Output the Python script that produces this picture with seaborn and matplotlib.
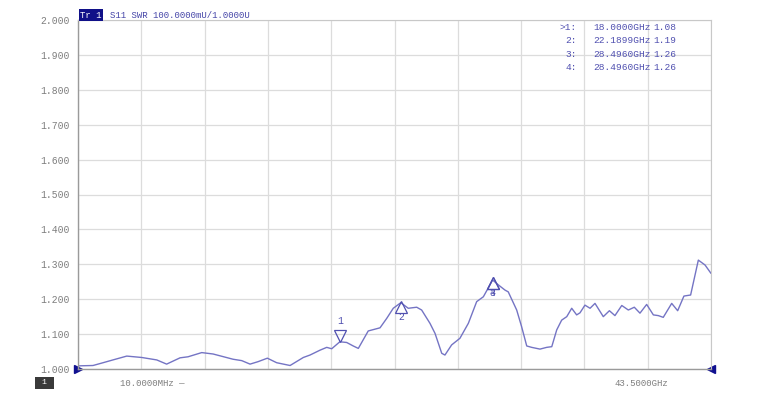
import numpy as np
import pandas as pd
import seaborn as sns
import matplotlib.pyplot as plt
from matplotlib.transforms import ScaledTranslation

# trace data (GHz, SWR)
freq_ghz = [0.01, 1.04, 1.73, 2.41, 3.36, 4.39, 5.42, 6.10, 7.02, 7.57, 8.51, 9.29,
            10.66, 11.26, 11.83, 12.38, 13.02, 13.66, 14.58, 15.49, 15.95, 16.64,
            17.10, 17.44, 18.00, 18.47, 18.92, 19.27, 19.95, 20.76, 21.22, 21.67,
            22.19, 22.70, 23.28, 23.62, 24.19, 24.54, 25.00, 25.22, 25.68, 26.25,
            26.83, 27.40, 27.86, 28.496, 28.89, 29.35, 29.57, 30.15, 30.49, 30.84,
            31.18, 31.75, 32.21, 32.56, 32.90, 33.24, 33.59, 33.93, 34.27, 34.50,
            34.84, 35.19, 35.53, 36.10, 36.52, 36.90, 37.37, 37.82, 38.23, 38.62,
            39.08, 39.54, 39.88, 40.22, 40.80, 41.21, 41.64, 42.10, 42.63, 43.09,
            43.50]
swr = [1.009, 1.010, 1.018, 1.026, 1.037, 1.033, 1.026, 1.014, 1.032, 1.035, 1.047,
       1.043, 1.028, 1.024, 1.014, 1.021, 1.031, 1.018, 1.010, 1.033, 1.040, 1.054,
       1.062, 1.058, 1.078, 1.076, 1.066, 1.059, 1.109, 1.118, 1.145, 1.174, 1.190,
       1.174, 1.177, 1.169, 1.131, 1.102, 1.045, 1.040, 1.069, 1.088, 1.131, 1.193,
       1.207, 1.255, 1.241, 1.226, 1.221, 1.169, 1.121, 1.066, 1.062, 1.057, 1.062,
       1.064, 1.112, 1.140, 1.150, 1.174, 1.155, 1.161, 1.183, 1.174, 1.188, 1.150,
       1.167, 1.153, 1.182, 1.169, 1.177, 1.160, 1.185, 1.155, 1.153, 1.148, 1.188,
       1.167, 1.209, 1.212, 1.312, 1.298, 1.274]

marker_ids = ["1", "2", "3", "4"]
marker_freq = [18.0000, 22.1899, 28.4960, 28.4960]
marker_val = [1.08, 1.19, 1.26, 1.26]

y_ticks = [2.0, 1.9, 1.8, 1.7, 1.6, 1.5, 1.4, 1.3, 1.2, 1.1, 1.0]
f_start, f_stop = 0.01, 43.5

df = pd.DataFrame({"freq": freq_ghz, "swr": swr})

sns.set_style("white")
plt.rcParams["font.family"] = ["Liberation Mono", "DejaVu Sans Mono"]

trace_c = "#7474c4"
mark_c = "#5050b0"
grey = "#7e7e7e"

fig = plt.figure(figsize=(7.58, 4.2), dpi=100)
ax = fig.add_axes([78 / 758, 51 / 420, 633 / 758, 349 / 420])

sns.lineplot(data=df, x="freq", y="swr", ax=ax, color=trace_c, linewidth=1.0)

ax.set_xlim(f_start, f_stop)
ax.set_ylim(1.0, 2.0)
ax.set_xticks(np.linspace(f_start, f_stop, 11))
ax.set_xticklabels([])
ax.set_yticks(y_ticks)
ax.set_yticklabels([f"{v:.3f}" for v in y_ticks], fontsize=7, color=grey)
ax.tick_params(length=0, pad=6)
ax.grid(True, color="#dcdcdc", linewidth=0.9)
ax.set_xlabel("")
ax.set_ylabel("")
for side in ["top", "right"]:
    ax.spines[side].set_color("#c8c8c8")
for side in ["left", "bottom"]:
    ax.spines[side].set_color("#9a9a9a")
    ax.spines[side].set_linewidth(1.0)

# marker triangles: 1 is active (points down, label above), others point up
up = ScaledTranslation(0, 0.048, fig.dpi_scale_trans)
down = ScaledTranslation(0, -0.048, fig.dpi_scale_trans)
for mid, mf, mv in zip(marker_ids, marker_freq, marker_val):
    if mid == "1":
        ax.plot(mf, mv, marker="v", ms=8.5, mfc="none", mec=mark_c, mew=0.9,
                transform=ax.transData + up)
        ax.annotate(mid, (mf, mv), xytext=(0, 11), textcoords="offset points",
                    ha="center", va="bottom", fontsize=7, color=mark_c)
    else:
        ax.plot(mf, mv, marker="^", ms=8.5, mfc="none", mec=mark_c, mew=0.9,
                transform=ax.transData + down)
        ax.annotate(mid, (mf, mv), xytext=(0, -7), textcoords="offset points",
                    ha="center", va="top", fontsize=7, color=mark_c)

# reference / span arrows on the frame
ax.plot(0, 0, marker=">", ms=6, color="#101090", transform=ax.transAxes, clip_on=False)
ax.plot(1, 0, marker="<", ms=6, color="#101090", transform=ax.transAxes, clip_on=False)

# header
fig.text(80 / 758, 1 - 15 / 420, "Tr 1", fontsize=6.5, color="white", va="center",
         bbox=dict(boxstyle="square,pad=0.15", fc="#101088", ec="none"))
fig.text(110 / 758, 1 - 15 / 420, "S11 SWR 100.0000mU/1.0000U", fontsize=6.5,
         color="#4646a8", va="center")

# marker readout table
for i, (mid, mf, mv) in enumerate(zip(marker_ids, marker_freq, marker_val)):
    yy = 1 - (27 + i * 13.6) / 420
    lab = (">" if mid == "1" else "") + mid + ":"
    fig.text(577 / 758, yy, lab, fontsize=6.8, color=mark_c, ha="right", va="center")
    fig.text(593 / 758, yy, f"{mf:.4f}GHz", fontsize=6.8, color=mark_c, va="center")
    fig.text(653 / 758, yy, f"{mv:.2f}", fontsize=6.8, color=mark_c, va="center")

# footer
fig.text(37 / 758, 1 - 383 / 420, " 1 ", fontsize=6, color="white", va="center",
         bbox=dict(boxstyle="square,pad=0.25", fc="#3a3a3a", ec="none"))
fig.text(120 / 758, 1 - 383 / 420, "10.0000MHz \u2014", fontsize=6.5, color=grey,
         va="center")
fig.text(668 / 758, 1 - 383 / 420, "43.5000GHz", fontsize=6.5, color=grey,
         ha="right", va="center")

fig.savefig("out.png", dpi=100)
plt.close()
